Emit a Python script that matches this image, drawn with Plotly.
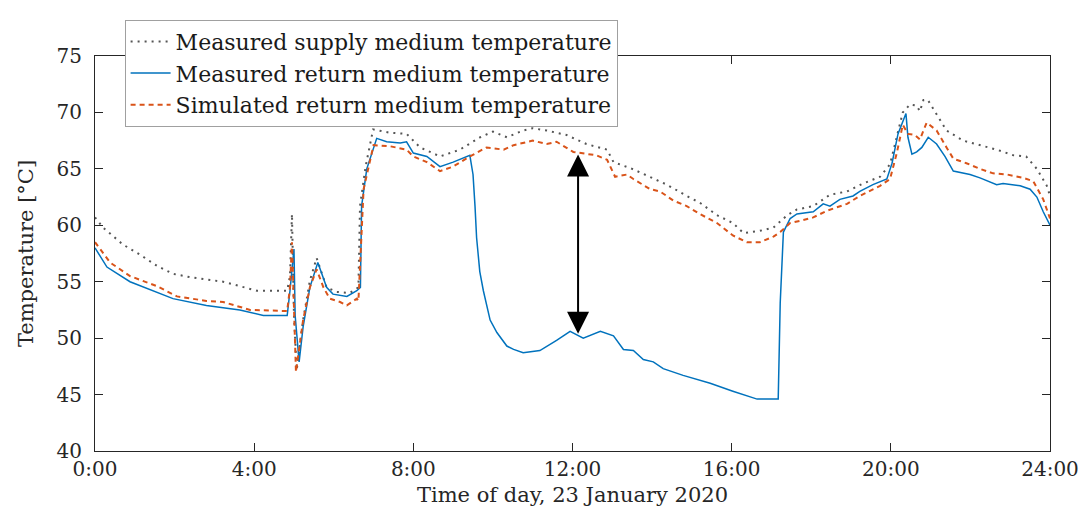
import plotly.graph_objects as go

# time of day in hours, temperatures in degC
t_supply = [0, 0.2, 0.7, 1.13, 1.56, 1.96, 2.39, 3.22, 4.07, 4.83, 4.9, 4.95, 5.0, 5.07,
            5.23, 5.4, 5.57, 5.82, 6.07, 6.4, 6.62, 6.66, 6.8, 6.99, 7.41, 7.83, 8.17,
            8.67, 9.17, 9.68, 10.0, 10.35, 10.76, 11.0, 11.35, 11.85, 12.35, 12.87,
            13.03, 13.5, 14.0, 14.37, 14.87, 15.2, 15.63, 16.03, 16.3, 16.7, 17.05,
            17.4, 17.64, 18.05, 18.47, 18.9, 19.3, 19.73, 19.98, 20.15, 20.3, 20.48,
            20.65, 20.73, 20.82, 20.93, 21.15, 21.4, 21.82, 22.24, 22.66, 23.08, 23.4,
            23.67, 23.92, 24.0]
supply_meas = [60.7, 59.8, 58.3, 57.4, 56.4, 55.7, 55.4, 55.0, 54.2, 54.2, 55.5, 61.0, 52.0, 47.2,
               51.6, 55.1, 57.1, 54.5, 54.1, 54.0, 54.5, 61.7, 65.2, 68.5, 68.2, 68.1, 66.9,
               66.1, 66.7, 67.8, 68.3, 67.8, 68.4, 68.6, 68.4, 68.0, 67.2, 66.7,
               65.6, 65.0, 64.2, 63.6, 62.6, 62.0, 60.9, 60.2, 59.3, 59.5, 59.8,
               60.9, 61.4, 61.7, 62.7, 63.0, 63.7, 64.3, 65.4, 67.8, 70.0, 70.7,
               70.6, 70.1, 71.1, 71.1, 69.8, 68.4, 67.5, 67.1, 66.7, 66.2, 66.1,
               65.0, 63.5, 62.6]

t_return = [0, 0.3, 0.88, 1.56, 1.96, 2.8, 3.64, 4.23, 4.83, 4.9, 5.0, 5.03, 5.13, 5.23,
            5.4, 5.6, 5.82, 5.98, 6.33, 6.58, 6.67, 6.7, 6.83, 7.08, 7.33, 7.67, 7.83,
            8.0, 8.34, 8.67, 9.0, 9.42, 9.5, 9.55, 9.59, 9.67, 9.76, 9.93, 10.1, 10.35,
            10.52, 10.76, 11.18, 11.6,
            11.94, 12.27, 12.7, 13.03, 13.28, 13.53, 13.78, 14.03, 14.28, 14.78, 15.46,
            16.03, 16.64, 17.17, 17.22, 17.3, 17.47, 17.64, 18.05, 18.3, 18.47, 18.72,
            19.05, 19.22, 19.55, 19.9, 20.03, 20.18, 20.38, 20.43, 20.53, 20.65, 20.78,
            20.94, 21.15, 21.36, 21.57, 21.99, 22.24, 22.66, 22.82, 23.25, 23.5, 23.67,
            23.83, 24.0]
return_meas = [58.0, 56.3, 55.0, 54.1, 53.5, 52.9, 52.5, 52.0, 52.0, 54.2, 57.9, 52.0, 47.9, 51.0,
               54.5, 56.7, 54.5, 53.9, 53.7, 54.2, 54.5, 61.7, 65.0, 67.7, 67.4, 67.3, 67.4,
               66.4, 66.1, 65.2, 65.6, 66.2, 64.5, 61.7, 58.9, 55.9, 54.2, 51.6, 50.5, 49.3,
               49.0, 48.7, 48.9, 49.8,
               50.6, 50.0, 50.6, 50.2, 49.0, 48.9, 48.1, 47.9, 47.3, 46.7, 46.0,
               45.3, 44.6, 44.6, 53.1, 59.4, 60.6, 61.0, 61.2, 61.9, 61.7, 62.3,
               62.6, 63.0, 63.6, 64.1, 65.5, 68.1, 69.9, 67.8, 66.3, 66.5, 66.9,
               67.8, 67.2, 66.1, 64.8, 64.5, 64.2, 63.6, 63.7, 63.5, 63.2, 62.5,
               61.2, 60.0]

t_sim = [0, 0.38, 0.88, 1.56, 2.06, 2.8, 3.22, 3.9, 4.83, 4.9, 4.95, 5.05, 5.23, 5.4,
         5.57, 5.74, 5.9, 6.16, 6.33, 6.58, 6.62, 6.75, 7.0, 7.42, 7.83, 8.0, 8.34,
         8.67, 9.0, 9.42, 9.84, 10.27, 10.52, 11.0, 11.35, 11.6, 12.02, 12.6, 12.87,
         13.07, 13.37, 13.53, 13.95, 14.2, 14.53, 14.87, 15.2, 15.63, 16.03, 16.38,
         16.71, 17.05, 17.22, 17.47, 17.72, 18.05, 18.4, 18.9, 19.22, 19.73, 19.98,
         20.15, 20.3, 20.43, 20.6, 20.73, 20.9, 21.15, 21.4, 21.57, 21.9, 22.24,
         22.57, 22.92, 23.33, 23.58, 23.83, 24.0]
return_sim = [58.5, 56.7, 55.5, 54.6, 53.7, 53.3, 53.2, 52.5, 52.4, 54.5, 58.5, 47.0, 51.6, 54.5,
              56.1, 54.5, 53.5, 53.2, 52.9, 53.5, 53.3, 63.2, 67.1, 67.0, 66.7, 66.1, 65.6,
              64.8, 65.2, 66.1, 66.9, 66.7, 67.1, 67.5, 67.2, 67.4, 66.5, 66.2, 65.8,
              64.3, 64.5, 64.1, 63.2, 63.0, 62.2, 61.7, 61.0, 60.2, 59.1, 58.5,
              58.5, 59.0, 59.4, 60.2, 60.4, 60.7, 61.3, 61.9, 62.6, 63.5, 64.1,
              66.4, 68.9, 68.1, 68.0, 67.6, 69.1, 68.4, 66.9, 65.9, 65.5, 65.0,
              64.6, 64.5, 64.2, 63.9, 62.3, 60.6]

x_ticks = [0, 4, 8, 12, 16, 20, 24]
x_tick_labels = ["0:00", "4:00", "8:00", "12:00", "16:00", "20:00", "24:00"]
y_ticks = [40, 45, 50, 55, 60, 65, 70, 75]

# temperature gap marked by the double arrow
gap_time = 12.14
gap_low, gap_high = 50.4, 66.4

FONT = "DejaVu Serif"

fig = go.Figure()
fig.add_trace(go.Scatter(
    x=t_supply, y=supply_meas, mode="lines",
    name="Measured supply medium temperature",
    line=dict(color="#555555", width=2, dash="2px,5px"),
))
fig.add_trace(go.Scatter(
    x=t_return, y=return_meas, mode="lines",
    name="Measured return medium temperature",
    line=dict(color="#0072BD", width=1.5),
))
fig.add_trace(go.Scatter(
    x=t_sim, y=return_sim, mode="lines",
    name="Simulated return medium temperature",
    line=dict(color="#D95319", width=2, dash="5px,4px"),
))

fig.add_annotation(
    x=gap_time, y=gap_low, ax=gap_time, ay=gap_high,
    xref="x", yref="y", axref="x", ayref="y",
    text="", showarrow=True, arrowside="end+start",
    arrowhead=2, arrowsize=2.2, arrowwidth=2, arrowcolor="black",
    standoff=0, startstandoff=0,
)

axis_common = dict(
    showline=True, linecolor="#262626", linewidth=1, mirror="allticks",
    ticks="inside", ticklen=8, tickcolor="#262626", showgrid=False, zeroline=False,
    tickfont=dict(family=FONT, size=20, color="#262626"), automargin=False,
)

# the page body adds an 8px offset, so the figure is 8px smaller on each axis
fig.update_layout(
    width=1079, height=508,
    margin=dict(l=87, r=37, t=39, b=65),
    plot_bgcolor="white", paper_bgcolor="white",
    font=dict(family=FONT, color="#262626"),
    xaxis=dict(
        range=[0, 24], tickvals=x_ticks, ticktext=x_tick_labels,
        title=dict(text="Time of day, 23 January 2020", font=dict(family=FONT, size=21), standoff=7),
        **axis_common,
    ),
    yaxis=dict(
        range=[40, 75], tickvals=y_ticks, ticklabelstandoff=8,
        title=dict(text="Temperature [°C]", font=dict(family=FONT, size=21), standoff=17),
        **axis_common,
    ),
    legend=dict(
        x=0.031, y=1.092, xanchor="left", yanchor="top",
        bgcolor="white", bordercolor="#a0a0a0", borderwidth=1,
        font=dict(family=FONT, size=22, color="#1a1a1a"),
        itemwidth=40, tracegroupgap=0,
    ),
    showlegend=True,
)

fig.write_html("out.html")
